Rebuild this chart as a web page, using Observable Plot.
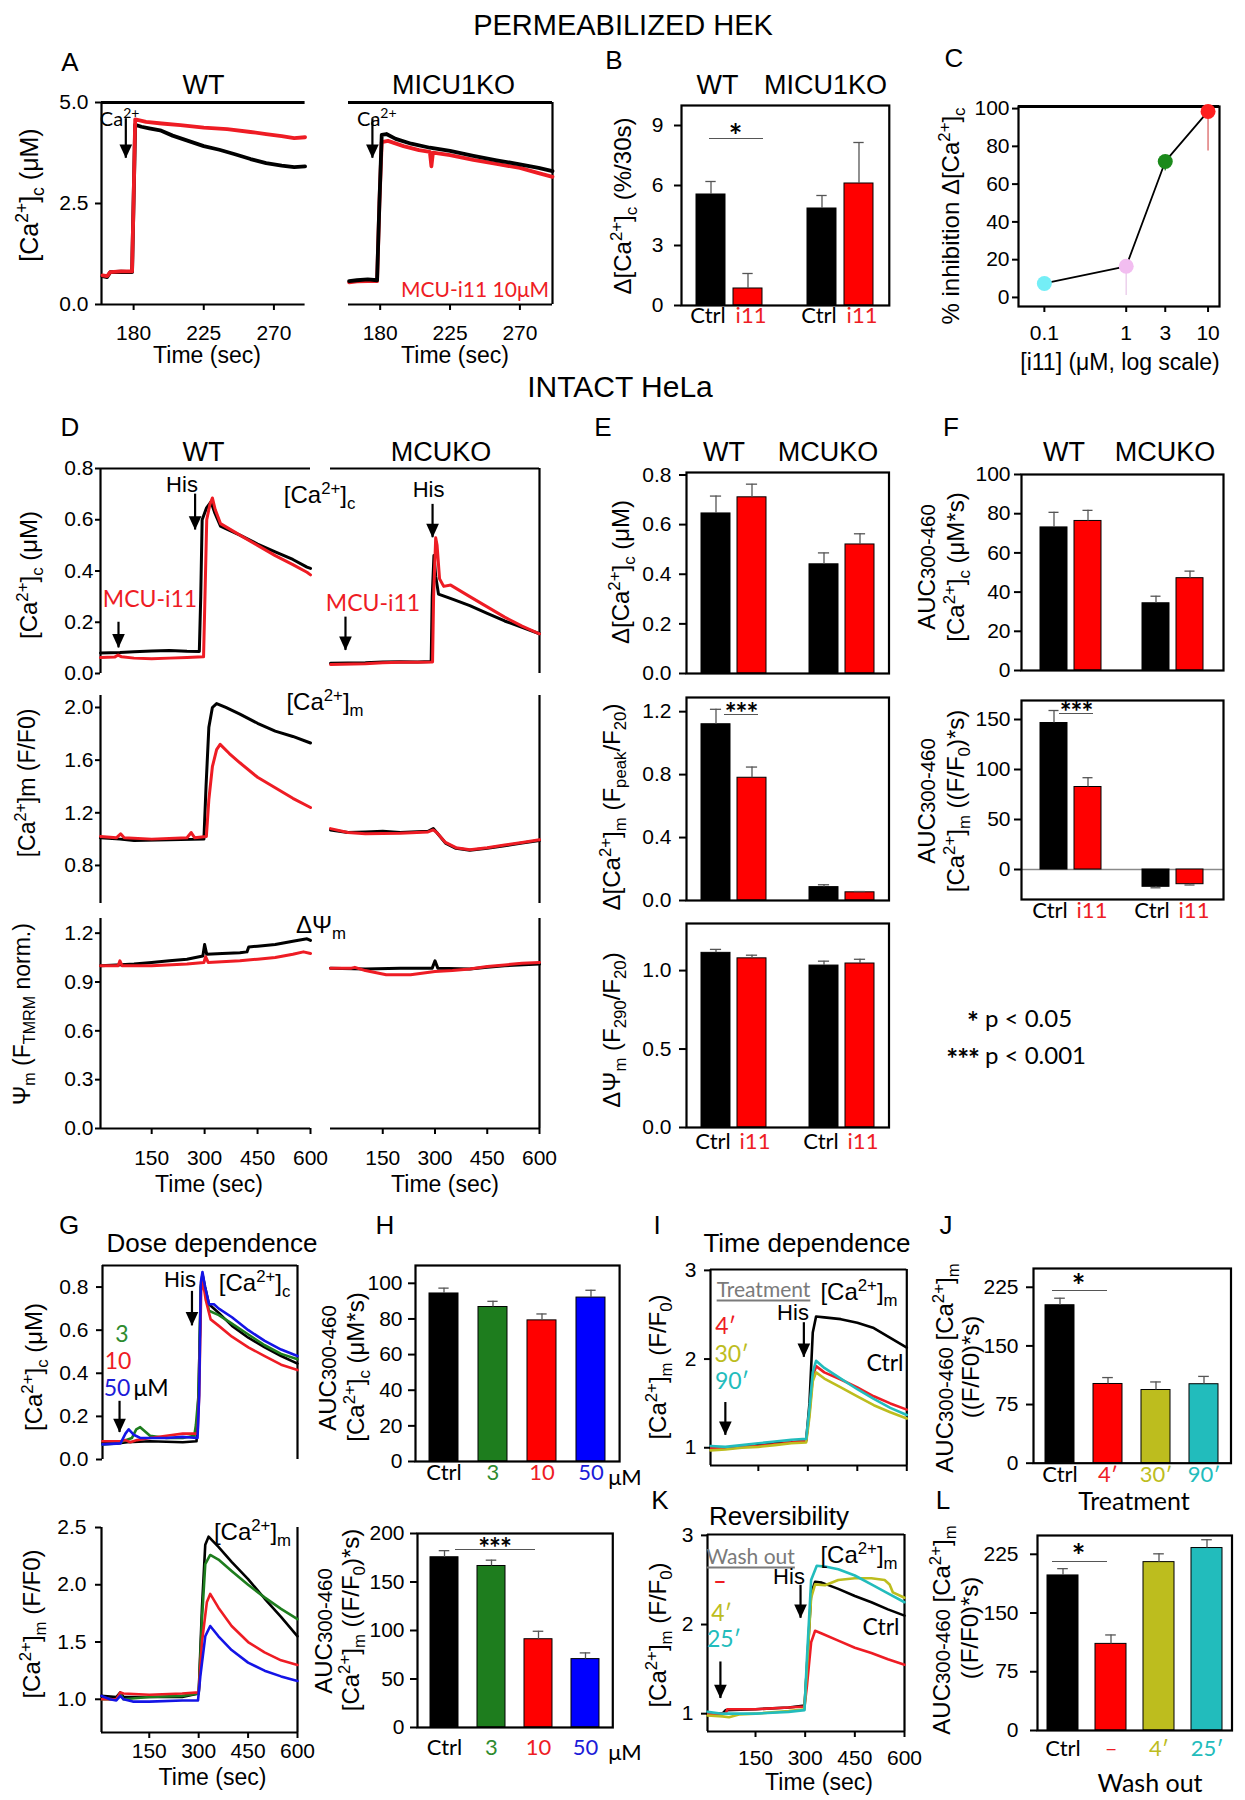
<!DOCTYPE html>
<html><head><meta charset="utf-8">
<script src="https://cdn.jsdelivr.net/npm/d3@7"></script>
<script src="https://cdn.jsdelivr.net/npm/@observablehq/plot@0.6"></script>
<style>
body{margin:0;background:#fff;}
#fig{position:relative;width:1245px;height:1800px;overflow:hidden;background:#fff;color:#000;font-family:"Liberation Sans",Arial,sans-serif;}
.t{position:absolute;white-space:nowrap;transform:translate(-50%,-50%);line-height:1;}
.t sup,.t sub{font-size:0.7em;line-height:0;}
.hl{position:absolute;height:0;}
</style></head>
<body><div id="fig"></div>
<script>
// ======================= DATA =======================
// Panel A: permeabilized HEK, [Ca2+]c (µM) vs time (s) — [time, value]
const A_WT_ctrl = [[160,0.70],[163,0.68],[165,0.80],[172,0.81],[179,0.80],[180,2.6],[181,4.45],[185,4.40],[190,4.36],[197,4.31],[205,4.18],[215,4.05],[225,3.92],[235,3.83],[245,3.72],[255,3.60],[265,3.50],[275,3.44],[283,3.40],[290,3.42]];
const A_WT_i11 = [[160,0.72],[163,0.70],[165,0.80],[172,0.82],[179,0.82],[180,2.6],[181,4.58],[188,4.52],[198,4.48],[210,4.44],[225,4.38],[240,4.34],[255,4.27],[265,4.22],[275,4.17],[283,4.12],[290,4.14]];
const A_KO_ctrl = [[160,0.58],[165,0.60],[172,0.62],[178,0.60],[179.5,2.5],[181,4.20],[184,4.22],[190,4.10],[200,3.98],[212,3.88],[225,3.80],[240,3.68],[255,3.57],[270,3.47],[282,3.38],[291,3.30]];
const A_KO_i11 = [[160,0.55],[165,0.57],[172,0.58],[178,0.58],[179.5,2.5],[181,4.02],[185,4.05],[195,3.92],[205,3.82],[212,3.78],[213,3.42],[214,3.76],[225,3.70],[240,3.58],[255,3.48],[270,3.38],[282,3.25],[291,3.16]];
const A_arrow = {x: 175, y1: 4.6, y2: 3.62};

// Panel B: Δ[Ca2+]c (%/30s)
const B_groups = ["WT","WT","MICU1KO","MICU1KO"];
const B_labels = ["Ctrl","i11","Ctrl","i11"];
const B_values = [5.55, 0.85, 4.85, 6.1];
const B_sem = [0.65, 0.75, 0.65, 2.05];

// Panel C: % inhibition vs [i11] (µM)
const C_conc = [0.1, 1, 3, 10];
const C_inhib = [7.4, 16.5, 72, 98.5];
const C_errDown = [0, 15.5, 5, 21];

// Panel D: intact HeLa traces
const D_up_WT_ctrl = [[5,0.08],[60,0.082],[100,0.085],[150,0.088],[200,0.09],[250,0.087],[285,0.086],[289,0.3],[293,0.6],[305,0.645],[318,0.67],[328,0.63],[345,0.575],[360,0.565],[400,0.54],[450,0.505],[500,0.475],[550,0.445],[590,0.415],[600,0.41]];
const D_up_WT_i11 = [[5,0.062],[45,0.064],[55,0.072],[65,0.065],[100,0.06],[150,0.058],[200,0.06],[250,0.062],[297,0.065],[301,0.3],[306,0.6],[315,0.66],[322,0.685],[330,0.64],[345,0.585],[400,0.54],[450,0.5],[500,0.46],[550,0.425],[590,0.395],[600,0.385]];
const D_up_KO_ctrl = [[0,0.04],[100,0.042],[150,0.045],[200,0.046],[250,0.045],[289,0.047],[292,0.3],[297,0.46],[302,0.38],[310,0.31],[330,0.3],[350,0.29],[400,0.265],[450,0.235],[500,0.205],[550,0.18],[600,0.155]];
const D_up_KO_i11 = [[0,0.035],[100,0.038],[150,0.042],[200,0.044],[250,0.044],[293,0.045],[296,0.3],[302,0.53],[306,0.5],[313,0.37],[325,0.34],[345,0.345],[400,0.3],[450,0.26],[500,0.22],[550,0.185],[600,0.155]];
const D_mid_WT_ctrl = [[5,1.01],[60,1.0],[100,0.99],[200,0.995],[298,1.0],[304,1.4],[312,1.85],[322,2.0],[334,2.03],[360,2.0],[400,1.95],[450,1.88],[500,1.82],[550,1.78],[600,1.73]];
const D_mid_WT_i11 = [[5,1.02],[50,1.01],[62,1.04],[72,1.01],[150,1.0],[250,1.01],[262,1.05],[272,1.01],[305,1.02],[312,1.3],[322,1.55],[334,1.68],[344,1.72],[370,1.65],[400,1.58],[450,1.47],[500,1.39],[550,1.31],[600,1.24]];
const D_mid_KO_ctrl = [[0,1.07],[50,1.05],[100,1.055],[150,1.06],[200,1.05],[280,1.06],[295,1.08],[305,1.05],[330,0.97],[360,0.93],[400,0.915],[450,0.93],[500,0.95],[550,0.97],[600,0.99]];
const D_mid_KO_i11 = [[0,1.08],[50,1.05],[100,1.04],[200,1.045],[280,1.055],[295,1.07],[305,1.05],[330,0.975],[360,0.935],[400,0.92],[450,0.935],[500,0.955],[550,0.975],[600,0.995]];
const D_bot_WT_ctrl = [[5,1.0],[50,1.005],[100,1.01],[150,1.02],[200,1.03],[250,1.04],[295,1.06],[300,1.13],[306,1.07],[350,1.075],[400,1.08],[420,1.085],[425,1.115],[450,1.12],[500,1.13],[550,1.15],[590,1.165],[600,1.155]];
const D_bot_WT_i11 = [[5,1.0],[55,1.0],[60,1.03],[66,1.0],[150,1.0],[250,1.01],[298,1.02],[303,1.055],[310,1.02],[400,1.03],[450,1.04],[500,1.05],[550,1.07],[580,1.085],[600,1.075]];
const D_bot_KO_ctrl = [[0,0.985],[100,0.98],[200,0.985],[292,0.985],[300,1.03],[308,0.985],[400,0.98],[450,0.99],[500,1.0],[600,1.01]];
const D_bot_KO_i11 = [[0,0.985],[60,0.985],[70,0.99],[100,0.97],[160,0.945],[230,0.945],[300,0.965],[350,0.97],[400,0.98],[450,0.995],[500,1.005],[550,1.015],[600,1.02]];
const D_his_WT = {x: 273, y1: 0.70, y2: 0.56};
const D_i11_WT = {x: 56, y1: 0.20, y2: 0.10};
const D_his_KO = {x: 293, y1: 0.66, y2: 0.53};
const D_i11_KO = {x: 43, y1: 0.22, y2: 0.09};

// Panel E (intact HeLa summary)
const E_groups = ["WT","WT","MCUKO","MCUKO"];
const E_labels = ["Ctrl","i11","Ctrl","i11"];
const E_peakC = [0.645, 0.71, 0.44, 0.52];      const E_peakC_sem = [0.07, 0.053, 0.046, 0.043];
const E_peakM = [1.12, 0.78, 0.085, 0.052];     const E_peakM_sem = [0.095, 0.068, 0.015, 0.005];
const E_psi = [1.113, 1.078, 1.032, 1.045];     const E_psi_sem = [0.022, 0.02, 0.028, 0.027];
// Panel F
const F_aucC = [73, 76.3, 34.3, 47.1];          const F_aucC_sem = [7.7, 5.4, 3.6, 3.6];
const F_aucM = [146.5, 82.5, -17.3, -14.7];     const F_aucM_sem = [12.5, 9.3, 1.0, 0.8];

// Panel G: dose dependence
const G_c_ctrl = [[5,0.075],[50,0.075],[80,0.08],[150,0.085],[250,0.08],[292,0.085],[298,0.3],[305,0.8],[310,0.86],[318,0.8],[330,0.72],[360,0.68],[400,0.62],[450,0.565],[500,0.52],[550,0.48],[600,0.445]];
const G_c_3 = [[5,0.07],[50,0.075],[95,0.1],[108,0.14],[120,0.15],[135,0.13],[150,0.11],[200,0.1],[250,0.1],[285,0.11],[290,0.16],[298,0.3],[305,0.8],[310,0.85],[318,0.78],[330,0.69],[360,0.67],[400,0.63],[450,0.58],[500,0.53],[550,0.49],[600,0.465]];
const G_c_10 = [[5,0.085],[60,0.085],[75,0.09],[90,0.08],[110,0.09],[150,0.1],[200,0.11],[250,0.12],[295,0.12],[300,0.3],[306,0.78],[311,0.83],[320,0.74],[335,0.65],[360,0.62],[400,0.57],[450,0.52],[500,0.48],[550,0.44],[600,0.415]];
const G_c_50 = [[5,0.07],[60,0.075],[75,0.12],[85,0.14],[100,0.115],[120,0.1],[150,0.1],[200,0.1],[250,0.105],[295,0.1],[300,0.3],[305,0.82],[310,0.87],[318,0.8],[330,0.72],[345,0.72],[360,0.7],[400,0.66],[450,0.6],[500,0.55],[550,0.51],[600,0.48]];
const G_m_ctrl = [[5,1.03],[50,1.02],[62,1.06],[72,1.02],[150,1.02],[250,1.02],[300,1.05],[310,1.8],[320,2.35],[330,2.42],[360,2.33],[400,2.2],[450,2.05],[500,1.88],[550,1.72],[600,1.55]];
const G_m_3 = [[5,1.0],[50,1.0],[62,1.05],[72,1.0],[150,1.02],[250,1.03],[300,1.05],[310,1.7],[320,2.18],[335,2.26],[360,2.22],[400,2.12],[450,2.0],[500,1.89],[550,1.79],[600,1.70]];
const G_m_10 = [[5,1.0],[50,1.0],[62,1.06],[72,1.05],[150,1.04],[250,1.05],[300,1.06],[310,1.5],[325,1.85],[335,1.92],[360,1.8],[400,1.64],[450,1.5],[500,1.41],[550,1.34],[600,1.30]];
const G_m_50 = [[5,1.03],[30,1.0],[50,0.99],[62,1.03],[72,1.0],[100,0.98],[150,0.98],[250,0.99],[298,0.99],[305,1.2],[320,1.55],[335,1.64],[360,1.55],[400,1.43],[450,1.32],[500,1.25],[550,1.2],[600,1.16]];
const G_his = {x: 278, y1: 0.78, y2: 0.62};
const G_add = {x: 57, y1: 0.27, y2: 0.125};

// Panel H
const H_labels = ["Ctrl","3","10","50"];
const H_aucC = [94.3, 86.7, 79.2, 92];     const H_aucC_sem = [3, 3.2, 3.6, 4.1];
const H_aucM = [175.5, 166.5, 91, 70.5];   const H_aucM_sem = [6.8, 6, 8.2, 6.4];

// Panel I: time dependence
const I_ctrl = [[5,1.0],[50,1.0],[100,1.02],[150,1.03],[200,1.05],[250,1.06],[295,1.08],[305,1.5],[315,2.3],[325,2.48],[350,2.47],[400,2.45],[450,2.41],[500,2.35],[550,2.24],[600,2.13]];
const I_4 = [[5,1.0],[50,0.99],[100,1.01],[150,1.02],[200,1.04],[250,1.06],[295,1.08],[305,1.4],[315,1.8],[325,1.92],[350,1.85],[400,1.77],[450,1.68],[500,1.58],[550,1.5],[600,1.43]];
const I_30 = [[5,0.97],[50,0.98],[100,1.0],[150,1.01],[200,1.03],[250,1.05],[295,1.06],[305,1.35],[315,1.75],[325,1.85],[350,1.78],[400,1.68],[450,1.58],[500,1.48],[550,1.4],[600,1.33]];
const I_90 = [[5,1.02],[50,1.01],[100,1.03],[150,1.05],[200,1.07],[250,1.09],[295,1.1],[305,1.45],[315,1.85],[325,1.98],[350,1.9],[400,1.78],[450,1.66],[500,1.55],[550,1.45],[600,1.37]];
const I_his = {x: 288, y1: 2.41, y2: 2.02};
const I_add = {x: 50, y1: 1.51, y2: 1.14};

// Panel J
const J_labels = ["Ctrl","4′","30′","90′"];
const J_auc = [202, 101.3, 93.6, 101];     const J_auc_sem = [9, 8.2, 10.3, 10];

// Panel K: reversibility
const K_ctrl = [[5,1.0],[50,1.0],[60,1.04],[150,1.05],[250,1.07],[298,1.09],[305,1.5],[318,2.35],[330,2.48],[350,2.47],[400,2.4],[450,2.32],[500,2.25],[550,2.17],[600,2.1]];
const K_none = [[5,1.0],[60,1.0],[65,1.05],[150,1.05],[250,1.07],[298,1.08],[305,1.3],[318,1.8],[330,1.93],[350,1.9],[400,1.82],[450,1.74],[500,1.68],[550,1.61],[600,1.55]];
const K_4 = [[5,0.98],[50,0.97],[70,0.96],[100,0.99],[150,1.0],[250,1.03],[298,1.05],[305,1.5],[318,2.3],[330,2.45],[360,2.44],[400,2.5],[450,2.52],[500,2.52],[540,2.5],[555,2.45],[565,2.36],[600,2.3]];
const K_25 = [[5,1.02],[50,1.0],[100,1.0],[150,1.0],[250,1.02],[298,1.04],[305,1.6],[318,2.5],[335,2.66],[360,2.65],[400,2.62],[450,2.55],[500,2.45],[550,2.35],[600,2.25]];
const K_his = {x: 286, y1: 2.44, y2: 2.07};
const K_add = {x: 44, y1: 1.58, y2: 1.17};

// Panel L
const L_labels = ["Ctrl","–","4′","25′"];
const L_auc = [198, 110.6, 215, 233];      const L_auc_sem = [8.7, 11.4, 10.6, 10.6];

// ======================= STYLE / LAYOUT =======================
const ARIAL = '"Liberation Sans", Arial, Helvetica, sans-serif';
const CAL = 'Lato, "Open Sans", sans-serif';
const BLK = "#000000", RED = "#ee1c24", REDB = "#ff0000";
const GREEN = "#1e7d1e", GREENT = "#2e8b2e", BLUE = "#1414e6", BLUET = "#1c1cd8";
const OLIVE = "#bdbd1e", TEAL = "#22bcbc", GRAYT = "#7a7a7a";
const fmt1 = d3.format(".1f");
const fmtInt = d => String(d);
const fig = document.getElementById("fig");

function plotAt(box, m, opts) {
  const [x0, y0, x1, y1] = box;
  const svg = Plot.plot({
    width: x1 - x0 + m[1] + m[3], height: y1 - y0 + m[0] + m[2],
    marginTop: m[0], marginRight: m[1], marginBottom: m[2], marginLeft: m[3],
    style: {background: "transparent", overflow: "visible", fontFamily: ARIAL, fontSize: "21px", color: "#000"},
    ...opts
  });
  svg.style.position = "absolute";
  svg.style.left = (x0 - m[3]) + "px";
  svg.style.top = (y0 - m[0]) + "px";
  fig.appendChild(svg);
  return svg;
}

const ARROWHEAD = {draw(ctx, size) { const s = Math.sqrt(size); ctx.moveTo(0, 0); ctx.lineTo(-0.55 * s, -1.2 * s); ctx.lineTo(0.55 * s, -1.2 * s); ctx.closePath(); }};
function arrowMarks(a) {
  return [
    Plot.ruleX([a], {x: "x", y1: "y1", y2: "y2", strokeWidth: 2.2}),
    Plot.dot([a], {x: "x", y: "y2", symbol: ARROWHEAD, r: 6.5, fill: "#000", stroke: "none"})
  ];
}

function tracePanel(o) {
  const marks = [];
  const sides = o.sides || [];
  const fw = o.fw || 2.2;
  if (sides.includes("top")) marks.push(Plot.ruleY([o.yd[1]], {strokeWidth: o.topW || fw}));
  if (sides.includes("bottom")) marks.push(Plot.ruleY([o.yd[0]], {strokeWidth: fw}));
  if (sides.includes("left")) marks.push(Plot.ruleX([o.xd[0]], {strokeWidth: fw}));
  if (sides.includes("right")) marks.push(Plot.ruleX([o.xd[1]], {strokeWidth: fw}));
  for (const t of o.traces) marks.push(Plot.line(t.data, {x: d => d[0], y: d => d[1], stroke: t.color, strokeWidth: o.sw || 3, strokeLinejoin: "round", strokeLinecap: "round"}));
  if (o.yTicks) marks.push(Plot.axisY({ticks: o.yTicks, tickFormat: o.yFmt || fmtInt, tickSize: o.yTs ?? 6, tickPadding: o.yPad ?? 6, strokeWidth: 2, fontSize: 21, label: null}));
  if (o.xTicks) marks.push(Plot.axisX({ticks: o.xTicks, tickFormat: o.xLabels === false ? (() => "") : fmtInt, tickSize: 6, tickPadding: o.xPad ?? 10, strokeWidth: 2, fontSize: 21, label: null}));
  for (const a of (o.arrows || [])) marks.push(...arrowMarks(a));
  return plotAt(o.box, [12, 12, 50, 70], {x: {domain: o.xd, axis: null}, y: {domain: o.yd, axis: null}, marks});
}

function barPanel(o) {
  const keys = o.labels.map((l, i) => (o.groups ? o.groups[i] + " " : "") + l + "#" + i);
  const data = o.values.map((v, i) => ({k: keys[i], v, e: v + (v < 0 ? -o.sem[i] : o.sem[i]), i}));
  const domain = o.gap ? [keys[0], keys[1], "gap", keys[2], keys[3]] : keys;
  const W = o.box[2] - o.box[0];
  const step = W / (domain.length - o.pi + 2 * o.po), bw = step * (1 - o.pi);
  const inset = Math.max(0, (bw - 11) / 2);
  const marks = [];
  if (o.zero) marks.push(Plot.ruleY([0], {stroke: "#8a8a8a", strokeWidth: 1.3}));
  marks.push(
    Plot.barY(data, {x: "k", y: "v", fill: d => o.fills[d.i], stroke: "#000", strokeWidth: 1}),
    Plot.ruleX(data, {x: "k", y1: "v", y2: "e", stroke: "#555", strokeWidth: 1.3}),
    Plot.tickY(data, {x: "k", y: "e", stroke: "#555", strokeWidth: 1.3, insetLeft: inset, insetRight: inset}),
    Plot.frame({strokeWidth: 2.2}),
    Plot.axisY({ticks: o.ticks, tickFormat: o.fmt || fmtInt, tickSize: 7, tickPadding: o.pad ?? 6, strokeWidth: 2, fontSize: 21, label: null})
  );
  if (o.dy != null) {
    const sp = o.spread || 0;
    const txt = (sub, dx) => Plot.text(sub, {x: "k", frameAnchor: "bottom", dy: o.dy, dx, text: d => o.labels[d.i], fill: d => o.labelFills[d.i], fontSize: o.lfs || 22, fontFamily: CAL});
    if (sp) marks.push(txt(data.filter(d => d.i % 2 === 0), -sp), txt(data.filter(d => d.i % 2 === 1), sp));
    else marks.push(txt(data, 0));
  }
  return plotAt(o.box, [12, 12, 50, 70], {x: {type: "band", domain, paddingInner: o.pi, paddingOuter: o.po, axis: null}, y: {domain: o.yd, axis: null}, marks});
}

function T(x, y, html, o = {}) {
  const d = document.createElement("div");
  d.className = "t";
  d.innerHTML = html;
  d.style.left = x + "px"; d.style.top = y + "px";
  d.style.fontSize = (o.size || 22) + "px";
  d.style.fontFamily = o.font || ARIAL;
  if (o.color) d.style.color = o.color;
  if (o.rot) d.style.transform = "translate(-50%,-50%) rotate(-90deg)";
  if (o.anchor === "end") d.style.transform = "translate(-100%,-50%)";
  if (o.anchor === "start") d.style.transform = "translate(0,-50%)";
  if (o.u) { d.style.textDecoration = "underline"; d.style.textUnderlineOffset = "3px"; }
  if (o.w) d.style.fontWeight = o.w;
  if (o.ls) d.style.letterSpacing = o.ls;
  fig.appendChild(d);
}
function HL(x1, x2, y, color = "#555", w = 1.5) {
  const d = document.createElement("div");
  d.className = "hl";
  d.style.left = x1 + "px"; d.style.top = y + "px"; d.style.width = (x2 - x1) + "px";
  d.style.borderTop = w + "px solid " + color;
  fig.appendChild(d);
}
// significance asterisks (visual centre at y)
function STAR(x, y, s, size = 32) { T(x, y + size * 0.22, s, {font: CAL, size, w: "bold", ls: "-1px"}); }

// ======================= PANELS =======================
// A
tracePanel({box: [101, 102, 304.6, 304], xd: [159.4, 290], yd: [0, 5], sides: ["top", "left", "bottom"], topW: 2.8, sw: 3.8,
  traces: [{data: A_WT_ctrl, color: BLK}, {data: A_WT_i11, color: RED}],
  yTicks: [0, 2.5, 5], yFmt: fmt1, yPad: 7, xTicks: [180, 225, 270], xPad: 15, arrows: [A_arrow]});
tracePanel({box: [348, 102, 552, 304], xd: [159.6, 291], yd: [0, 5], sides: ["top", "right", "bottom"], topW: 2.8, sw: 3.8,
  traces: [{data: A_KO_i11, color: RED}, {data: A_KO_ctrl, color: BLK}],
  xTicks: [180, 225, 270], xPad: 15, arrows: [A_arrow]});

// B
barPanel({box: [680.7, 105, 888.5, 305], yd: [0, 10], ticks: [0, 3, 6, 9], pad: 11, gap: true, pi: 0.21, po: 0.375,
  groups: B_groups, labels: B_labels, values: B_values, sem: B_sem,
  fills: [BLK, REDB, BLK, REDB], labelFills: [BLK, RED, BLK, RED], dy: 18, spread: 3});

// C
{
  const C_colors = ["#74eef6", "#f2bdf0", "#1b8a1b", "#ff2020"];
  const C_errColors = ["#74eef6", "#ecd0ec", "#3a8a3a", "#e07a7a"];
  const data = C_conc.map((c, i) => ({c, v: C_inhib[i], lo: C_inhib[i] - C_errDown[i], i}));
  plotAt([1018, 106, 1219, 306], [12, 12, 50, 70], {
    x: {type: "log", domain: [0.0483, 13.8], axis: null},
    y: {domain: [-4.8, 101.1], axis: null},
    marks: [
      Plot.frame({strokeWidth: 2.2}),
      Plot.ruleY([101.1], {strokeWidth: 3}),
      Plot.ruleX(data.filter(d => d.v > d.lo), {x: "c", y1: "lo", y2: "v", stroke: d => C_errColors[d.i], strokeWidth: 1.5}),
      Plot.line(data, {x: "c", y: "v", stroke: "#000", strokeWidth: 1.8}),
      Plot.dot(data, {x: "c", y: "v", r: 7.5, fill: d => C_colors[d.i], stroke: "none"}),
      Plot.axisY({ticks: [0, 20, 40, 60, 80, 100], tickFormat: fmtInt, tickSize: 6, tickPadding: 3, strokeWidth: 2, fontSize: 21, label: null}),
      Plot.axisX({ticks: C_conc, tickFormat: fmtInt, tickSize: 6, tickPadding: 13, strokeWidth: 2, fontSize: 21, label: null})
    ]
  });
}

// D
tracePanel({box: [100, 468, 310, 673], xd: [5, 600], yd: [0, 0.8], sides: ["top", "left"],
  traces: [{data: D_up_WT_ctrl, color: BLK}, {data: D_up_WT_i11, color: RED}],
  yTicks: [0, 0.2, 0.4, 0.6, 0.8], yFmt: fmt1, yTs: 5, yPad: 2, arrows: [D_his_WT, D_i11_WT]});
tracePanel({box: [330, 468, 539, 673], xd: [0, 600], yd: [0, 0.8], sides: ["top", "right"],
  traces: [{data: D_up_KO_ctrl, color: BLK}, {data: D_up_KO_i11, color: RED}], arrows: [D_his_KO, D_i11_KO]});
tracePanel({box: [100, 695, 310, 903], xd: [5, 600], yd: [0.511, 2.091], sides: ["left"],
  traces: [{data: D_mid_WT_ctrl, color: BLK}, {data: D_mid_WT_i11, color: RED}],
  yTicks: [0.8, 1.2, 1.6, 2.0], yFmt: fmt1, yTs: 5, yPad: 2});
tracePanel({box: [330, 695, 539, 903], xd: [0, 600], yd: [0.511, 2.091], sides: ["right"],
  traces: [{data: D_mid_KO_ctrl, color: BLK}, {data: D_mid_KO_i11, color: RED}]});
tracePanel({box: [100, 918, 310, 1128], xd: [5, 600], yd: [0, 1.29], sides: ["left", "bottom"],
  traces: [{data: D_bot_WT_ctrl, color: BLK}, {data: D_bot_WT_i11, color: RED}],
  yTicks: [0, 0.3, 0.6, 0.9, 1.2], yFmt: fmt1, yTs: 5, yPad: 2, xTicks: [150, 300, 450, 600], xPad: 16});
tracePanel({box: [330, 918, 539, 1128], xd: [0, 600], yd: [0, 1.29], sides: ["right", "bottom"],
  traces: [{data: D_bot_KO_ctrl, color: BLK}, {data: D_bot_KO_i11, color: RED}],
  xTicks: [150, 300, 450, 600], xPad: 16});

// E
barPanel({box: [686, 472, 888.5, 673], yd: [0, 0.81], ticks: [0, 0.2, 0.4, 0.6, 0.8], fmt: fmt1, pad: 8, gap: true, pi: 0.2, po: 0.41,
  groups: E_groups, labels: E_labels, values: E_peakC, sem: E_peakC_sem, fills: [BLK, REDB, BLK, REDB]});
barPanel({box: [686, 697, 888.5, 900], yd: [0, 1.29], ticks: [0, 0.4, 0.8, 1.2], fmt: fmt1, pad: 8, gap: true, pi: 0.2, po: 0.41,
  groups: E_groups, labels: E_labels, values: E_peakM, sem: E_peakM_sem, fills: [BLK, REDB, BLK, REDB]});
barPanel({box: [686, 923, 888.5, 1127], yd: [0, 1.3], ticks: [0, 0.5, 1.0], fmt: fmt1, pad: 8, gap: true, pi: 0.2, po: 0.41,
  groups: E_groups, labels: E_labels, values: E_psi, sem: E_psi_sem, fills: [BLK, REDB, BLK, REDB], labelFills: [BLK, RED, BLK, RED], dy: 21, spread: 3});

// F
barPanel({box: [1021, 474, 1223, 670], yd: [0, 100], ticks: [0, 20, 40, 60, 80, 100], pad: 4, gap: true, pi: 0.2, po: 0.49,
  groups: E_groups, labels: E_labels, values: F_aucC, sem: F_aucC_sem, fills: [BLK, REDB, BLK, REDB]});
barPanel({box: [1021, 700, 1223, 899], yd: [-30, 169], ticks: [0, 50, 100, 150], pad: 4, gap: true, pi: 0.2, po: 0.49, zero: true,
  groups: E_groups, labels: E_labels, values: F_aucM, sem: F_aucM_sem, fills: [BLK, REDB, BLK, REDB], labelFills: [BLK, RED, BLK, RED], dy: 18, spread: 4});

// G
tracePanel({box: [102, 1265, 297, 1459], xd: [5, 600], yd: [0, 0.9], sides: ["top", "left", "right"], sw: 2.6,
  traces: [{data: G_c_ctrl, color: BLK}, {data: G_c_3, color: GREEN}, {data: G_c_10, color: RED}, {data: G_c_50, color: BLUE}],
  yTicks: [0, 0.2, 0.4, 0.6, 0.8], yFmt: fmt1, yPad: 8, arrows: [G_his, G_add]});
tracePanel({box: [101, 1527, 297, 1732], xd: [5, 600], yd: [0.71, 2.5], sides: ["left", "right", "bottom"], sw: 2.6,
  traces: [{data: G_m_ctrl, color: BLK}, {data: G_m_3, color: GREEN}, {data: G_m_10, color: RED}, {data: G_m_50, color: BLUE}],
  yTicks: [1, 1.5, 2, 2.5], yFmt: fmt1, yPad: 9, xTicks: [150, 300, 450, 600], xPad: 5});

// H
barPanel({box: [414.6, 1265, 618.7, 1461], yd: [0, 110], ticks: [0, 20, 40, 60, 80, 100], pad: 6, pi: 0.4, po: 0.26,
  labels: H_labels, values: H_aucC, sem: H_aucC_sem, fills: [BLK, GREEN, REDB, "#0000ff"], labelFills: [BLK, GREENT, RED, BLUET], dy: 19});
barPanel({box: [416.7, 1533, 612, 1727], yd: [0, 200], ticks: [0, 50, 100, 150, 200], pad: 6, pi: 0.4, po: 0.26,
  labels: H_labels, values: H_aucM, sem: H_aucM_sem, fills: [BLK, GREEN, REDB, "#0000ff"], labelFills: [BLK, GREENT, RED, BLUET], dy: 28});

// I
tracePanel({box: [709.7, 1269, 906, 1465], xd: [5, 600], yd: [0.8, 3.01], sides: ["top", "left", "right", "bottom"], sw: 2.6,
  traces: [{data: I_ctrl, color: BLK}, {data: I_4, color: RED}, {data: I_30, color: OLIVE}, {data: I_90, color: TEAL}],
  yTicks: [1, 2, 3], yPad: 8, xTicks: [150, 300, 450, 600], xLabels: false, arrows: [I_his, I_add]});

// J
barPanel({box: [1032.5, 1268, 1230, 1462.7], yd: [0, 249], ticks: [0, 75, 150, 225], pad: 8, pi: 0.4, po: 0.22,
  labels: J_labels, values: J_auc, sem: J_auc_sem, fills: [BLK, REDB, OLIVE, TEAL], labelFills: [BLK, RED, OLIVE, TEAL], dy: 19});

// K
tracePanel({box: [707, 1534, 904, 1731], xd: [5, 600], yd: [0.8, 3.01], sides: ["top", "left", "right", "bottom"], sw: 2.6,
  traces: [{data: K_ctrl, color: BLK}, {data: K_none, color: RED}, {data: K_4, color: OLIVE}, {data: K_25, color: TEAL}],
  yTicks: [1, 2, 3], yPad: 8, xTicks: [150, 300, 450, 600], xPad: 13, arrows: [K_his, K_add]});

// L
barPanel({box: [1036.5, 1535, 1231, 1730], yd: [0, 249], ticks: [0, 75, 150, 225], pad: 12, pi: 0.35, po: 0.19,
  labels: L_labels, values: L_auc, sem: L_auc_sem, fills: [BLK, REDB, OLIVE, TEAL], labelFills: [BLK, RED, OLIVE, TEAL], dy: 25});

// ======================= TEXT =======================
const CaC = "[Ca<sup>2+</sup>]<sub>c</sub>";
const CaM = "[Ca<sup>2+</sup>]<sub>m</sub>";
const AUC = 'AUC<span style="font-size:0.85em">300-460</span>';

T(623, 25, "PERMEABILIZED HEK", {size: 29});
T(620, 387, "INTACT HeLa", {size: 30});
[["A",70,62],["B",614,60],["C",954,58],["D",70,427],["E",603,427],["F",951,427],["G",69,1225],["H",385,1225],["I",657,1225],["J",946,1225],["K",660,1500],["L",943,1500]]
  .forEach(([s, x, y]) => T(x, y, s, {size: 26}));

// A
T(203.6, 85, "WT", {size: 27}); T(453.6, 85, "MICU1KO", {size: 27});
T(28.6, 195, CaC + " (μM)", {rot: true, size: 25});
T(119.6, 118, "Ca<sup>2+</sup>", {font: CAL, size: 20});
T(376.8, 118, "Ca<sup>2+</sup>", {font: CAL, size: 20});
T(475, 288, "MCU-i11 10μM", {font: CAL, size: 21, color: RED});
T(207, 355, "Time (sec)", {size: 23}); T(455, 355, "Time (sec)", {size: 23});
// B
T(717.6, 85, "WT", {size: 27}); T(825.5, 85, "MICU1KO", {size: 27});
T(623, 206, "Δ" + CaC + " (%/30s)", {rot: true, size: 24});
HL(708.6, 762.6, 138); STAR(735, 129, "*");
// C
T(951.4, 216, "% inhibition Δ" + CaC, {rot: true, size: 24});
T(1120, 362, "[i11] (μM, log scale)", {size: 23});
// D
T(203.6, 452, "WT", {size: 27}); T(441, 452, "MCUKO", {size: 27});
T(28.6, 575, CaC + " (μM)", {rot: true, size: 24});
T(27, 783, "[Ca<sup>2+</sup>]m (F/F0)", {rot: true, size: 23});
T(22, 1014, "Ψ<sub>m</sub> (F<sub>TMRM</sub> norm.)", {rot: true, size: 23});
T(182, 485, "His", {size: 22}); T(428.6, 490, "His", {size: 22});
T(319.6, 495, CaC, {size: 24});
T(150, 598, "MCU-i11", {font: CAL, size: 23, color: RED});
T(373, 602, "MCU-i11", {font: CAL, size: 23, color: RED});
T(325, 702, CaM, {size: 24});
T(321, 925, "ΔΨ<sub>m</sub>", {size: 24});
T(209, 1184, "Time (sec)", {size: 23}); T(445, 1184, "Time (sec)", {size: 23});
// E
T(724, 452, "WT", {size: 27}); T(828, 452, "MCUKO", {size: 27});
T(621, 572, "Δ" + CaC + " (μM)", {rot: true, size: 24});
T(612, 807, "Δ" + CaM + " (F<sub>peak</sub>/F<sub>20</sub>)", {rot: true, size: 24});
T(612, 1030, "ΔΨ<sub>m</sub> (F<sub>290</sub>/F<sub>20</sub>)", {rot: true, size: 24});
HL(724, 758, 714); STAR(741, 706, "***", 28);
// F
T(1064, 452, "WT", {size: 27}); T(1165, 452, "MCUKO", {size: 27});
T(927, 567, AUC, {rot: true, size: 24}); T(956, 567, CaC + " (μM*s)", {rot: true, size: 24});
T(927, 801, AUC, {rot: true, size: 24}); T(956, 801, CaM + " ((F/F<sub>0</sub>)*s)", {rot: true, size: 24});
HL(1059, 1093, 713); STAR(1076, 705, "***", 28);
T(979, 1021, "*", {font: CAL, size: 28, anchor: "end", w: "bold"}); T(985, 1018, "p &lt; 0.05", {font: CAL, size: 24, anchor: "start"});
T(979, 1058, "***", {font: CAL, size: 28, anchor: "end", w: "bold", ls: "-1px"}); T(985, 1055, "p &lt; 0.001", {font: CAL, size: 24, anchor: "start"});
// G
T(212, 1243, "Dose dependence", {size: 26});
T(33.7, 1367, CaC + " (μM)", {rot: true, size: 24});
T(31.6, 1624, CaM + " (F/F0)", {rot: true, size: 24});
T(122, 1333, "3", {font: CAL, size: 23, color: GREENT});
T(118, 1360, "10", {font: CAL, size: 23, color: RED});
T(117, 1387, "50", {font: CAL, size: 23, color: BLUET});
T(151, 1387, "μM", {font: CAL, size: 23});
T(180, 1280, "His", {size: 22}); T(254.6, 1283, CaC, {size: 24});
T(252.5, 1532, CaM, {size: 24});
T(212.5, 1777, "Time (sec)", {size: 23});
// H
T(328, 1368, AUC, {rot: true, size: 24}); T(355.6, 1367, CaC + " (μM*s)", {rot: true, size: 24});
T(324, 1631, AUC, {rot: true, size: 24}); T(351.4, 1620, CaM + " ((F/F<sub>0</sub>)*s)", {rot: true, size: 24});
T(625, 1477, "μM", {font: CAL, size: 22}); T(625, 1752, "μM", {font: CAL, size: 22});
HL(454.5, 534.5, 1549); STAR(494.5, 1541, "***", 28);
// I
T(807, 1243, "Time dependence", {size: 26});
T(658, 1367, CaM + " (F/F<sub>0</sub>)", {rot: true, size: 24});
T(763.5, 1288, "Treatment", {font: CAL, size: 21, color: GRAYT, u: true});
T(859, 1292, CaM, {size: 24}); T(793, 1313, "His", {size: 22});
T(725.6, 1325, "4′", {font: CAL, size: 23, color: RED});
T(731.6, 1353, "30′", {font: CAL, size: 23, color: OLIVE});
T(732, 1380, "90′", {font: CAL, size: 23, color: TEAL});
T(885, 1362, "Ctrl", {font: CAL, size: 23});
// J
T(945, 1368, AUC + " " + CaM, {rot: true, size: 24}); T(970.7, 1367, "((F/F0)*s)", {rot: true, size: 24});
HL(1052, 1107, 1290); STAR(1078, 1279, "*");
T(1134, 1500, "Treatment", {font: CAL, size: 25});
// K
T(779, 1516, "Reversibility", {size: 26});
T(658, 1635, CaM + " (F/F<sub>0</sub>)", {rot: true, size: 24});
T(750.7, 1555, "Wash out", {font: CAL, size: 21, color: GRAYT, u: true});
T(720, 1580, "–", {font: CAL, size: 23, color: RED, w: "bold"});
T(721.6, 1612, "4′", {font: CAL, size: 23, color: OLIVE});
T(724, 1638, "25′", {font: CAL, size: 23, color: TEAL});
T(859, 1555, CaM, {size: 24}); T(789, 1577, "His", {size: 22});
T(881, 1626, "Ctrl", {font: CAL, size: 23});
T(819, 1782, "Time (sec)", {size: 23});
// L
T(942, 1630, AUC + " " + CaM, {rot: true, size: 24}); T(970, 1628, "((F/F0)*s)", {rot: true, size: 24});
HL(1052, 1107, 1561); STAR(1078, 1549, "*");
T(1150, 1782, "Wash out", {font: CAL, size: 25});
</script>
</body></html>
